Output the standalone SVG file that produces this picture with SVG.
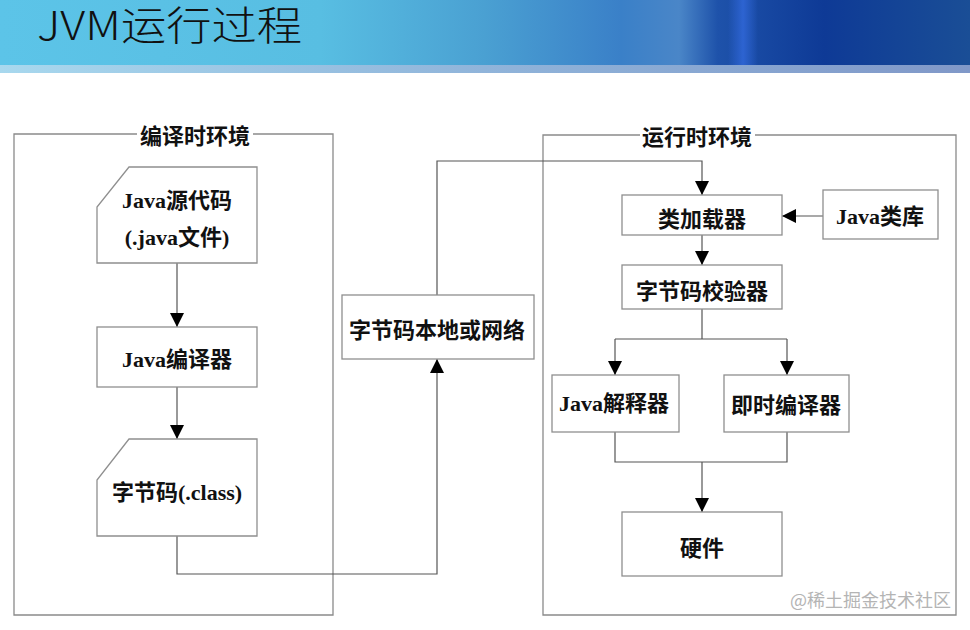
<svg xmlns="http://www.w3.org/2000/svg" width="970" height="630" viewBox="0 0 970 630">
<defs>
<linearGradient id="hdr" x1="0" y1="0" x2="1" y2="0">
<stop offset="0" stop-color="#5cc4e8"/>
<stop offset="0.33" stop-color="#58bee2"/>
<stop offset="0.5" stop-color="#4aa0d2"/>
<stop offset="0.64" stop-color="#3a80c8"/>
<stop offset="0.7" stop-color="#4a86c8"/>
<stop offset="0.74" stop-color="#1e52aa"/>
<stop offset="0.85" stop-color="#0e3a96"/>
<stop offset="1" stop-color="#1a4e96"/>
</linearGradient>
<linearGradient id="strip" x1="0" y1="0" x2="1" y2="0">
<stop offset="0" stop-color="#a8d8ee"/>
<stop offset="0.5" stop-color="#90b4da"/>
<stop offset="1" stop-color="#8098c8"/>
</linearGradient>
<linearGradient id="beam" x1="0" y1="0" x2="1" y2="0">
<stop offset="0" stop-color="#2f66d6" stop-opacity="0"/>
<stop offset="0.5" stop-color="#2f66d6" stop-opacity="0.9"/>
<stop offset="1" stop-color="#2f66d6" stop-opacity="0"/>
</linearGradient>
<marker id="arr" markerUnits="userSpaceOnUse" markerWidth="15" markerHeight="14" refX="14" refY="7" orient="auto">
<path d="M0,0 L14,7 L0,14 Z" fill="#000"/>
</marker>
<style>
.frame{fill:none;stroke:#8a8a8a;stroke-width:1.3}
.box{fill:#fff;stroke:#8f8f8f;stroke-width:1.3}
.conn{fill:none;stroke:#555;stroke-width:1.2}
.lbl{font-family:"Liberation Serif","Noto Sans CJK SC",serif;font-weight:bold;font-size:22px;fill:#111;text-anchor:middle;dominant-baseline:central}
.cjk{font-family:"Noto Sans CJK SC","Liberation Sans",sans-serif;font-weight:bold;font-size:22px;fill:#111;text-anchor:middle;dominant-baseline:central}
</style>
</defs>
<g id="header">
<rect x="0" y="0" width="970" height="66" fill="url(#hdr)"/>
<rect x="728" y="0" width="30" height="73" fill="url(#beam)"/>
<rect x="0" y="65" width="970" height="8" fill="url(#strip)"/>
<text x="37" y="40" font-family="Noto Sans CJK SC, Liberation Sans, sans-serif" font-weight="300" font-size="40" fill="#111" textLength="265" lengthAdjust="spacingAndGlyphs">JVM运行过程</text>
</g>
<g id="compile-env">
<polyline class="frame" points="137,134 14,134 14,615 333,615 333,134 253,134"/>
<text class="cjk" x="195" y="134">编译时环境</text>
</g>
<g id="runtime-env">
<polyline class="frame" points="640,135 543,135 543,615 956,615 956,135 755,135"/>
<text class="cjk" x="697" y="135">运行时环境</text>
</g>
<g id="connectors">
<path class="conn" d="M177,263 V327" marker-end="url(#arr)"/>
<path class="conn" d="M177,387 V439" marker-end="url(#arr)"/>
<path class="conn" d="M177,536 V574 H437 V359" marker-end="url(#arr)"/>
<path class="conn" d="M437,295 V161 H702 V195" marker-end="url(#arr)"/>
<path class="conn" d="M823,216 H782" marker-end="url(#arr)"/>
<path class="conn" d="M702,235 V265" marker-end="url(#arr)"/>
<path class="conn" d="M702,309 V339"/>
<path class="conn" d="M615,339 H787"/>
<path class="conn" d="M615,339 V375" marker-end="url(#arr)"/>
<path class="conn" d="M787,339 V375" marker-end="url(#arr)"/>
<path class="conn" d="M615,432 V462 H787 V432"/>
<path class="conn" d="M702,462 V512" marker-end="url(#arr)"/>
</g>
<g id="java-source">
<polygon class="box" points="129,167 257,167 257,263 97,263 97,207"/>
<text class="lbl" x="177" y="200">Java源代码</text>
<text class="lbl" x="177" y="237">(.java文件)</text>
</g>
<g id="java-compiler">
<rect class="box" x="97" y="327" width="160" height="60"/>
<text class="lbl" x="177" y="359">Java编译器</text>
</g>
<g id="bytecode">
<polygon class="box" points="129,439 257,439 257,536 97,536 97,480"/>
<text class="lbl" x="177" y="492">字节码(.class)</text>
</g>
<g id="bytecode-network">
<rect class="box" x="342" y="295" width="192" height="64"/>
<text class="cjk" x="437" y="328">字节码本地或网络</text>
</g>
<g id="class-loader">
<rect class="box" x="622" y="195" width="160" height="40"/>
<text class="cjk" x="702" y="217">类加载器</text>
</g>
<g id="java-lib">
<rect class="box" x="823" y="190" width="115" height="49"/>
<text class="lbl" x="880" y="216">Java类库</text>
</g>
<g id="verifier">
<rect class="box" x="622" y="265" width="160" height="44"/>
<text class="cjk" x="702" y="289">字节码校验器</text>
</g>
<g id="interpreter">
<rect class="box" x="552" y="375" width="127" height="57"/>
<text class="lbl" x="614" y="403">Java解释器</text>
</g>
<g id="jit">
<rect class="box" x="724" y="375" width="125" height="57"/>
<text class="cjk" x="786" y="403">即时编译器</text>
</g>
<g id="hardware">
<rect class="box" x="622" y="512" width="160" height="64"/>
<text class="cjk" x="702" y="546">硬件</text>
</g>
<text x="790" y="607" font-family="Noto Sans CJK SC, Liberation Sans, sans-serif" font-size="18" fill="#b4b4b4">@稀土掘金技术社区</text>
</svg>
